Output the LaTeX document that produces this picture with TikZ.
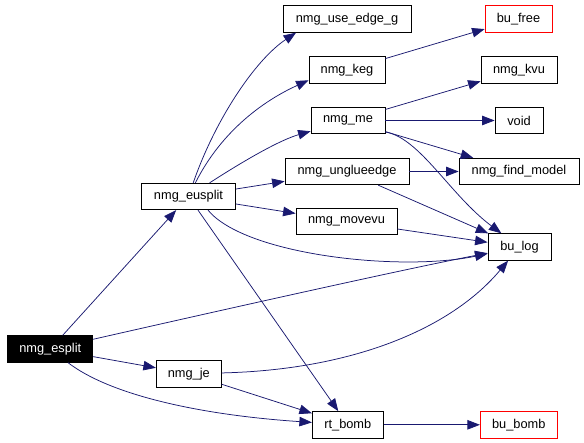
\documentclass[tikz,border=0pt]{standalone}
\usepackage{fontspec}
\setmainfont{Liberation Sans}
\usetikzlibrary{arrows.meta}
\definecolor{edgeblue}{HTML}{191970}
\tikzset{
  fn/.style={draw=black, line width=0.8pt, rectangle, inner sep=0pt, minimum height=26.5pt, font=\fontsize{12.8}{15}\selectfont, fill=white},
  fnred/.style={fn, draw=red},
  fnroot/.style={fn, fill=black, text=white},
  call/.style={draw=edgeblue, line width=0.75pt, -{Triangle[length=12.5pt,width=9.5pt]}, fill=none},
}
\begin{document}
\begin{tikzpicture}[x=1pt,y=-1pt]
\useasboundingbox (0,0) rectangle (584,443);
% nodes
\node[fn, minimum width=128pt] (useedge) at (347,19) {nmg\_use\_edge\_g};
\node[fnred, minimum width=67pt] (bufree) at (518.5,19) {bu\_free};
\node[fn, minimum width=76pt] (keg) at (347,70) {nmg\_keg};
\node[fn, minimum width=76pt] (kvu) at (519,70) {nmg\_kvu};
\node[fn, minimum width=74pt] (me) at (348,120.5) {nmg\_me};
\node[fn, minimum width=48pt] (void) at (519,120.5) {void};
\node[fn, minimum width=124pt] (unglue) at (347,171.5) {nmg\_unglueedge};
\node[fn, minimum width=120pt] (findmodel) at (519,171.5) {nmg\_find\_model};
\node[fn, minimum width=101pt] (movevu) at (346.5,221.5) {nmg\_movevu};
\node[fn, minimum width=63pt] (bulog) at (519.5,247) {bu\_log};
\node[fn, minimum width=94pt] (eusplit) at (188.5,196.5) {nmg\_eusplit};
\node[fnroot, minimum width=85pt] (esplit) at (50.3,349) {nmg\_esplit};
\node[fn, minimum width=65pt] (je) at (188.8,373.7) {nmg\_je};
\node[fn, minimum width=71pt] (rtbomb) at (347.8,424.8) {rt\_bomb};
\node[fnred, minimum width=77pt] (bubomb) at (518.8,424.8) {bu\_bomb};
% edges from nmg_esplit
\draw[call] (esplit) -- (eusplit);
\draw[call] (esplit) .. controls (200,315) and (400,270) .. (bulog);
\draw[call] (esplit) -- (je);
\draw[call] (esplit) .. controls (110,395) and (200,415) .. (rtbomb);
% edges from nmg_eusplit
\draw[call] (eusplit) .. controls (215,120) and (255,60) .. (useedge.195);
\draw[call] (eusplit) .. controls (222,130) and (265,100) .. (keg.195);
\draw[call] (eusplit) .. controls (245,160) and (280,140) .. (me.196);
\draw[call] (eusplit) -- (unglue);
\draw[call] (eusplit) -- (movevu);
\draw[call] (eusplit.-35) .. controls (245,255) and (400,272) .. (bulog);
\draw[call] (eusplit) -- (rtbomb);
% others
\draw[call] (keg) -- (bufree);
\draw[call] (me) -- (kvu);
\draw[call] (me) -- (void);
\draw[call] (me) -- (findmodel);
\draw[call] (me.-17) .. controls (420,138) and (450,195) .. (bulog.143);
\draw[call] (unglue) -- (findmodel);
\draw[call] (unglue) -- (bulog);
\draw[call] (movevu) -- (bulog);
\draw[call] (je) .. controls (350,370) and (450,330) .. (bulog);
\draw[call] (je) -- (rtbomb);
\draw[call] (rtbomb) -- (bubomb);
\end{tikzpicture}
\end{document}
